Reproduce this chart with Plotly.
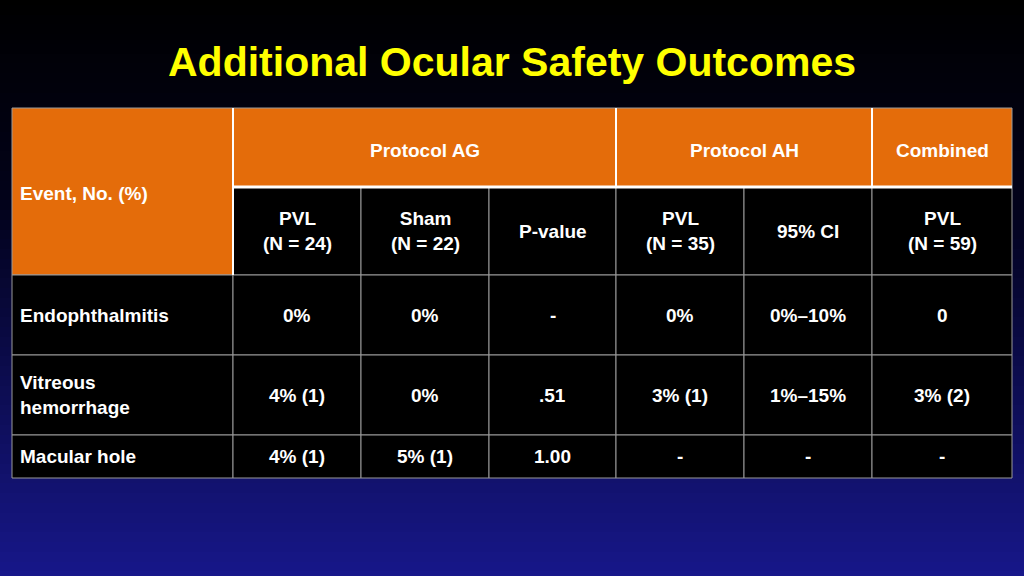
import numpy as np
import plotly.graph_objects as go

title = "Additional Ocular Safety Outcomes"
group_labels = ["Protocol AG", "Protocol AH", "Combined"]
group_spans = [(1, 4), (4, 6), (6, 7)]
sub_headers = ["PVL<br>(N = 24)", "Sham<br>(N = 22)", "P-value", "PVL<br>(N = 35)", "95% CI", "PVL<br>(N = 59)"]
events = ["Endophthalmitis", "Vitreous<br>hemorrhage", "Macular hole"]
rows = [
    ["0%", "0%", "-", "0%", "0%\u201310%", "0"],
    ["4% (1)", "0%", ".51", "3% (1)", "1%\u201315%", "3% (2)"],
    ["4% (1)", "5% (1)", "1.00", "-", "-", "-"],
]

col_x = [12, 233, 361, 489, 616, 744, 872, 1012]
row_y = [108, 187, 275, 355, 435, 478]
orange = "#E46C0A"
grid = "#9a9a9a"
font = "Liberation Sans, Arial"

fig = go.Figure()
# background gradient
yy = np.linspace(0, 576, 60)
fig.add_trace(go.Heatmap(x=[0, 1024], y=yy, z=[[v, v] for v in yy],
                         colorscale=[[0, "#000000"], [0.35, "#02021a"], [1, "#17178a"]],
                         showscale=False, hoverinfo="skip"))

shapes = []
ann = []
def rect(x0, x1, y0, y1, fill, line=grid, w=1):
    shapes.append(dict(type="rect", x0=x0, x1=x1, y0=y0, y1=y1, fillcolor=fill,
                       line=dict(color=line, width=w), layer="above"))
def txt(x, y, s, anchor="center"):
    ann.append(dict(x=x, y=y, text=s, showarrow=False, xanchor=anchor, yanchor="middle",
                    font=dict(family=font, size=19, color="white"), align=anchor if anchor != "center" else "center"))

# header
rect(col_x[0], col_x[1], row_y[0], row_y[2], orange)
txt(col_x[0] + 6, 193, "<b>Event, No. (%)</b>", "left")
for lab, (a, b) in zip(group_labels, group_spans):
    rect(col_x[a], col_x[b], row_y[0], row_y[1], orange)
    txt((col_x[a] + col_x[b]) / 2, 150, "<b>%s</b>" % lab)
for i, h in enumerate(sub_headers):
    rect(col_x[i + 1], col_x[i + 2], row_y[1], row_y[2], "#000000")
    txt((col_x[i + 1] + col_x[i + 2]) / 2, (row_y[1] + row_y[2]) / 2, "<b>%s</b>" % h)
# body
for r, (ev, vals) in enumerate(zip(events, rows)):
    y0, y1 = row_y[r + 2], row_y[r + 3]
    rect(col_x[0], col_x[1], y0, y1, "#000000")
    txt(col_x[0] + 6, (y0 + y1) / 2, "<b>%s</b>" % ev, "left")
    for i, v in enumerate(vals):
        rect(col_x[i + 1], col_x[i + 2], y0, y1, "#000000")
        txt((col_x[i + 1] + col_x[i + 2]) / 2, (y0 + y1) / 2, "<b>%s</b>" % v)
# white separators in header
shapes.append(dict(type="line", x0=col_x[1], x1=col_x[-1], y0=row_y[1], y1=row_y[1],
                   line=dict(color="white", width=3), layer="above"))
for i in (1, 4, 6):
    shapes.append(dict(type="line", x0=col_x[i], x1=col_x[i], y0=row_y[0], y1=row_y[1] if i > 1 else row_y[2],
                       line=dict(color="white", width=2), layer="above"))

ann.append(dict(x=512, y=62, text="<b>%s</b>" % title, showarrow=False, xanchor="center", yanchor="middle",
                font=dict(family=font, size=41, color="#FFFF00")))

fig.update_layout(width=1024, height=576, margin=dict(l=0, r=0, t=0, b=0),
                  paper_bgcolor="#000000", plot_bgcolor="#000000",
                  shapes=shapes, annotations=ann, showlegend=False,
                  xaxis=dict(range=[0, 1024], visible=False, fixedrange=True),
                  yaxis=dict(range=[576, 0], visible=False, fixedrange=True))
fig.write_html("out.html", config={"displayModeBar": False},
               post_script="document.body.style.margin='0';document.body.style.overflow='hidden';")
